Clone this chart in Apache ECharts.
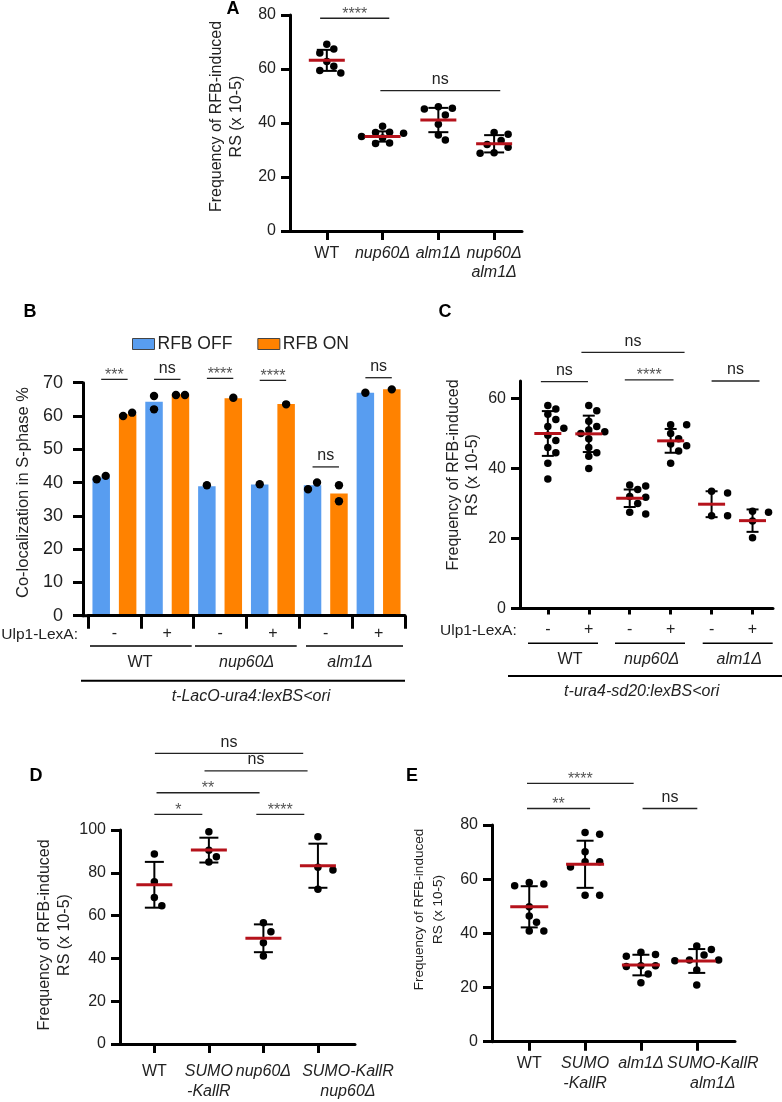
<!DOCTYPE html>
<html><head><meta charset="utf-8">
<script src="https://cdn.jsdelivr.net/npm/echarts@6/dist/echarts.min.js"></script>
<style>html,body{margin:0;padding:0;background:#fff}#c{width:782px;height:1102px}</style>
</head><body><div id="c"></div>
<script>
// ---------------- DATA ----------------
// Panel A
const catsA = ['WT', 'nup60Δ', 'alm1Δ', 'nup60Δ\nalm1Δ'];
const ptsA = [
  [67.4, 58.5, 69.2, 65.9, 62.8, 61.0, 59.4],
  [38.8, 36.5, 36.2, 36.6, 35.0, 34.4, 32.6, 32.4],
  [46.0, 45.2, 45.5, 43.0, 39.5, 35.6, 33.7],
  [36.5, 35.8, 33.5, 32.0, 31.0, 29.0, 28.8]
];
const meanA = [63.2, 35.0, 41.1, 32.3];
const sdA = [3.9, 1.9, 4.5, 3.2];
const sigA = [[0.88, 2.12, 78.8], [1.96, 4.11, 52]];
const sigLabA = ['****', 'ns'];

// Panel B
const catsB = ['-', '+', '-', '+', '-', '+'];
const groupsB = ['WT', 'nup60Δ', 'alm1Δ'];
const strainB = 't-LacO-ura4:lexBS<ori';
const barOff = [41.5, 64.3, 38.9, 39.4, 39.2, 67.0];
const barOn = [60.5, 66.5, 65.3, 63.6, 36.7, 68.0];
const dotsOff = [[41, 42], [66, 62], [39.2], [39.5], [38, 40], [67]];
const dotsOn = [[60, 61], [66.3, 66.3], [65.5], [63.5], [39.2, 34.4], [68]];
const sigB = [71, 71, 71.3, 70.7, 44.7, 71.5];
const sigLabB = ['***', 'ns', '****', '****', 'ns', 'ns'];

// Panel C
const catsC = ['-', '+', '-', '+', '-', '+'];
const groupsC = ['WT', 'nup60Δ', 'alm1Δ'];
const strainC = 't-ura4-sd20:lexBS<ori';
const ptsC = [
  [58, 57, 55.5, 54, 52, 51.5, 49.5, 48, 46, 44.5, 41.5, 37],
  [58, 56.5, 53.5, 52, 51, 50.5, 50, 48.5, 46, 44.5, 43.5, 40],
  [35.3, 35, 34, 32, 31.8, 30, 27.5, 27],
  [52.5, 52.5, 50, 48.5, 47, 46.5, 45, 41.5],
  [33, 33.5, 26.5, 26.5],
  [27.5, 27.8, 25, 20.2]
];
const meanC = [50.0, 49.9, 31.5, 47.9, 29.8, 25.1];
const sdC = [6.4, 5.2, 2.5, 3.4, 3.7, 3.2];
const sigC = [[0.83, 1.98, 64.8], [1.82, 4.34, 73.2], [2.88, 4.07, 65.3], [5.0, 6.17, 65.0]];
const sigLabC = ['ns', 'ns', '****', 'ns'];

// Panel D
const catsD = ['WT', 'SUMO\n-KallR', 'nup60Δ', 'SUMO-KallR\nnup60Δ'];
const ptsD = [
  [88.8, 75.8, 68.4, 64.6],
  [99.2, 90.5, 87.5, 85.0],
  [56.7, 52.5, 47.3, 41.1],
  [96.9, 82.6, 81.3, 72.3]
];
const meanD = [74.4, 90.6, 49.4, 83.3];
const sdD = [10.7, 5.8, 6.5, 10.3];
const sigD = [[1.01, 3.73, 135.8], [1.92, 3.81, 127.6], [1.04, 2.93, 117.4], [1.0, 1.88, 107.3], [2.87, 3.75, 107.3]];
const sigLabD = ['ns', 'ns', '**', '*', '****'];

// Panel E
const catsE = ['WT', 'SUMO\n-KallR', 'alm1Δ', 'SUMO-KallR\nalm1Δ'];
const ptsE = [
  [58.2, 57.6, 58.8, 49.8, 46.4, 44.1, 40.9, 40.9],
  [76.6, 77.2, 70.1, 66.4, 64.5, 66.4, 54.1, 54.1],
  [33, 32.2, 31.5, 28, 28, 27.8, 25, 21.8],
  [35.3, 34, 32, 30.2, 30.2, 29.9, 26.5, 20.9]
];
const meanE = [49.8, 65.5, 28.3, 29.8];
const sdE = [7.6, 8.7, 3.8, 4.4];
const sigE = [[0.96, 2.87, 95.4], [0.96, 2.09, 86.1], [3.03, 4.01, 86.1]];
const sigLabE = ['****', '**', 'ns'];

const yTitleFreq = 'Frequency of RFB-induced\nRS (x 10-5)';
const yTitleB = 'Co-localization in S-phase %';
const ulpLabel = 'Ulp1-LexA:';

// ---------------- STYLE / LAYOUT ----------------
const FONT = "'Liberation Sans', Arial, Helvetica, sans-serif";
const INK = '#222';
const RED = '#b5121b';
const BLUE = '#589df0';
const ORANGE = '#ff8200';

const G = {
  A: {left: 290, top: 15, width: 232, height: 216, xMin: 0.34, xMax: 4.5, yMax: 80},
  B: {left: 88, top: 382.7, width: 317, height: 233, yMax: 70},
  C: {left: 520, top: 381, width: 253, height: 227.5, xMin: 0.32, xMax: 6.5, yMax: 65},
  D: {left: 120, top: 830, width: 235, height: 214, xMin: 0.37, xMax: 4.68, yMax: 100},
  E: {left: 492, top: 825, width: 243, height: 216.7, xMin: 0.333, xMax: 4.685, yMax: 80}
};
const order = ['A', 'B', 'C', 'D', 'E'];

function swarm(vals, yPx, step, coll) {
  const idx = vals.map((v, i) => i).sort((a, b) => vals[b] - vals[a]);
  const placed = [], off = [];
  idx.forEach(i => {
    const y = vals[i] * yPx;
    for (let k = 0; k < 60; k++) {
      const c = k === 0 ? 0 : (k % 2 ? 1 : -1) * Math.ceil(k / 2) * step;
      if (placed.every(p => Math.hypot(p[0] - c, p[1] - y) >= coll)) {
        off[i] = c; placed.push([c, y]); break;
      }
    }
  });
  return off;
}

function fmtLabel(s) {
  return s.split('\n').map(l => '{' + (l === 'WT' ? 'n' : 'i') + '|' + l + '}').join('\n');
}

function txtStyle(extra) {
  return Object.assign({fill: INK, fontSize: 16, fontFamily: FONT,
    align: 'center', verticalAlign: 'middle', textAlign: 'center', textVerticalAlign: 'middle'}, extra || {});
}

function sigShape(xa, xb, y, lab) {
  const star = lab.indexOf('*') >= 0;
  return {type: 'group', children: [
    {type: 'line', shape: {x1: xa, y1: y, x2: xb, y2: y}, style: {stroke: '#222', lineWidth: 1.3}},
    {type: 'text', x: (xa + xb) / 2, y: star ? y + 4 : y - 3,
      style: txtStyle({text: lab, fill: star ? '#555' : INK, fontSize: 16,
        verticalAlign: 'bottom', textVerticalAlign: 'bottom'})}
  ]};
}

function summaryRender(cap, mw) {
  return function (params, api) {
    const x = api.value(0), m = api.value(1), s = api.value(2);
    const c = api.coord([x, m]), t = api.coord([x, m + s]), b = api.coord([x, m - s]);
    const st = {stroke: '#000', lineWidth: 2};
    return {type: 'group', children: [
      {type: 'line', shape: {x1: c[0], y1: t[1], x2: c[0], y2: b[1]}, style: st},
      {type: 'line', shape: {x1: c[0] - cap / 2, y1: t[1], x2: c[0] + cap / 2, y2: t[1]}, style: st},
      {type: 'line', shape: {x1: c[0] - cap / 2, y1: b[1], x2: c[0] + cap / 2, y2: b[1]}, style: st},
      {type: 'line', shape: {x1: c[0] - mw / 2, y1: c[1], x2: c[0] + mw / 2, y2: c[1]}, style: {stroke: RED, lineWidth: 3}}
    ]};
  };
}

function dotPanel(gi, g, pts, mean, sd, sig, sigLab, o) {
  const yPx = g.height / g.yMax, xPx = g.width / (g.xMax - g.xMin);
  const data = [];
  pts.forEach((vals, k) => {
    const off = swarm(vals, yPx, o.step, o.coll);
    vals.forEach((v, i) => data.push([k + 1 + off[i] / xPx, v]));
  });
  return [
    {type: 'scatter', xAxisIndex: gi, yAxisIndex: gi, data, symbol: 'circle', symbolSize: o.dot,
      itemStyle: {color: '#000', opacity: 1}, silent: true, z: 2},
    {type: 'custom', coordinateSystem: 'cartesian2d', xAxisIndex: gi, yAxisIndex: gi,
      data: mean.map((m, k) => [k + 1, m, sd[k]]), encode: {x: 0, y: 1},
      renderItem: summaryRender(o.cap, o.mw), silent: true, z: 4},
    {type: 'custom', coordinateSystem: 'cartesian2d', xAxisIndex: gi, yAxisIndex: gi, clip: false,
      data: sig.map(s => [s[0], s[2], s[1]]), encode: {x: [0, 2], y: 1},
      renderItem: (params, api) => {
        const p1 = api.coord([api.value(0), api.value(1)]);
        const p2 = api.coord([api.value(2), api.value(1)]);
        return sigShape(p1[0], p2[0], p1[1], sigLab[params.dataIndex]);
      }, silent: true, z: 4}
  ];
}

const axisLineSt = {show: true, onZero: false, lineStyle: {color: '#000', width: 3}};
const tickSt = (len, cv) => Object.assign({show: true, length: len, lineStyle: {color: '#000', width: 3}}, cv ? {customValues: cv} : {});

function yAx(gi, g, opts) {
  return Object.assign({
    type: 'value', gridIndex: gi, min: 0, max: g.yMax,
    axisLine: axisLineSt, axisTick: tickSt(9), splitLine: {show: false}, z: 6,
    axisLabel: {color: INK, fontSize: 16, fontFamily: FONT, margin: 14}
  }, opts);
}

function richSet(fs, lh) {
  const base = {fontSize: fs, fontFamily: FONT, color: INK, lineHeight: lh};
  return {n: base, i: Object.assign({}, base, {fontStyle: 'italic'})};
}

// label of the last category may sit a few pixels right of its tick (as in the original figure)
function xValAx(gi, g, cats, margin, lh, lastShiftPx) {
  const cv = cats.map((c, i) => i + 1);
  const xPx = g.width / (g.xMax - g.xMin);
  const lv = cv.map((v, i) => (i === cats.length - 1 && lastShiftPx) ? v + lastShiftPx / xPx : v);
  return {
    type: 'value', gridIndex: gi, min: g.xMin, max: g.xMax,
    axisLine: axisLineSt, axisTick: tickSt(9, cv), splitLine: {show: false}, z: 6,
    axisLabel: {customValues: lv, margin, hideOverlap: false,
      formatter: v => {
        let k = 0, best = 1e9;
        lv.forEach((x, i) => { const d = Math.abs(x - v); if (d < best) { best = d; k = i; } });
        return fmtLabel(cats[k]);
      },
      rich: richSet(16, lh)}
  };
}

const grids = order.map(k => ({left: G[k].left, top: G[k].top, width: G[k].width, height: G[k].height, containLabel: false}));

const xAxes = [
  xValAx(0, G.A, catsA, 13, 19, 0),
  {type: 'category', gridIndex: 1, data: catsB, boundaryGap: true,
    axisLine: {show: true, lineStyle: {color: '#000', width: 3}},
    axisTick: {show: true, length: 13, interval: 0, lineStyle: {color: '#000', width: 3}},
    axisLabel: {interval: 0, margin: 10, color: INK, fontSize: 16, fontFamily: FONT}, z: 6},
  {type: 'value', gridIndex: 2, min: G.C.xMin, max: G.C.xMax,
    axisLine: axisLineSt, axisTick: tickSt(6, [1, 2, 3, 4, 5, 6]), splitLine: {show: false}, z: 6,
    axisLabel: {customValues: [1, 2, 3, 4, 5, 6], margin: 13, color: INK, fontSize: 16, fontFamily: FONT,
      formatter: v => catsC[Math.round(v) - 1]}},
  xValAx(3, G.D, catsD, 18, 20, 30),
  xValAx(4, G.E, catsE, 12, 20, 16)
];

const yAxes = [
  yAx(0, G.A, {interval: 20}),
  yAx(1, G.B, {interval: 10, offset: 5, axisTick: tickSt(10),
    axisLabel: {color: INK, fontSize: 18, fontFamily: FONT, margin: 20}}),
  yAx(2, G.C, {axisTick: tickSt(9, [0, 20, 40, 60]),
    axisLabel: {customValues: [0, 20, 40, 60], color: INK, fontSize: 16, fontFamily: FONT, margin: 14}}),
  yAx(3, G.D, {interval: 20}),
  yAx(4, G.E, {interval: 20})
];

// Panel B series
const BAR_W = 17.5, BAR_GAP = 0.51;
const BAR_SHIFT = (BAR_W + BAR_GAP * BAR_W) / 2;
const yPxB = G.B.height / G.B.yMax;
const dotsBData = [];
[dotsOff, dotsOn].forEach((set, w) => {
  set.forEach((vals, cat) => {
    let offs = vals.map(() => 0);
    if (vals.length === 2 && Math.abs(vals[0] - vals[1]) * yPxB < 8) {
      offs = vals[0] <= vals[1] ? [-4.5, 4.5] : [4.5, -4.5];
    }
    vals.forEach((v, i) => dotsBData.push([cat, v, w, offs[i]]));
  });
});

const seriesB = [
  {type: 'bar', name: 'RFB OFF', xAxisIndex: 1, yAxisIndex: 1, data: barOff, barWidth: BAR_W,
    barGap: (BAR_GAP * 100) + '%', itemStyle: {color: BLUE}, silent: true, z: 2},
  {type: 'bar', name: 'RFB ON', xAxisIndex: 1, yAxisIndex: 1, data: barOn, barWidth: BAR_W,
    barGap: (BAR_GAP * 100) + '%', itemStyle: {color: ORANGE}, silent: true, z: 2},
  {type: 'custom', coordinateSystem: 'cartesian2d', xAxisIndex: 1, yAxisIndex: 1, data: dotsBData,
    encode: {x: 0, y: 1}, silent: true, z: 4,
    renderItem: (params, api) => {
      const p = api.coord([api.value(0), api.value(1)]);
      const x = p[0] + (api.value(2) ? 1 : -1) * BAR_SHIFT + api.value(3);
      return {type: 'circle', shape: {cx: x, cy: p[1], r: 4.2}, style: {fill: '#000'}};
    }},
  {type: 'custom', coordinateSystem: 'cartesian2d', xAxisIndex: 1, yAxisIndex: 1, clip: false,
    data: sigB.map((y, i) => [i, y]), encode: {x: 0, y: 1}, silent: true, z: 4,
    renderItem: (params, api) => {
      const p = api.coord([api.value(0), api.value(1)]);
      return sigShape(p[0] - BAR_SHIFT, p[0] + BAR_SHIFT, p[1], sigLabB[params.dataIndex]);
    }}
];

const series = [].concat(
  dotPanel(0, G.A, ptsA, meanA, sdA, sigA, sigLabA, {dot: 7.5, step: 7, coll: 8.5, cap: 20, mw: 36}),
  seriesB,
  dotPanel(2, G.C, ptsC, meanC, sdC, sigC, sigLabC, {dot: 7.5, step: 8, coll: 8.5, cap: 12, mw: 27}),
  dotPanel(3, G.D, ptsD, meanD, sdD, sigD, sigLabD, {dot: 7.5, step: 7.5, coll: 9, cap: 19, mw: 36}),
  dotPanel(4, G.E, ptsE, meanE, sdE, sigE, sigLabE, {dot: 7.5, step: 7.3, coll: 9, cap: 17, mw: 38})
);

// ---------------- DECORATIONS ----------------
const deco = [];
function gText(x, y, text, extra, rot) {
  deco.push({type: 'text', x, y, rotation: rot || 0, silent: true, style: txtStyle(Object.assign({text}, extra || {}))});
}
function gLine(x1, y1, x2, y2, w) {
  deco.push({type: 'line', silent: true, shape: {x1, y1, x2, y2}, style: {stroke: '#000', lineWidth: w || 1.5}});
}
const ital = {fontStyle: 'italic'};
const bold = {fontWeight: 'bold', fontSize: 18, fill: '#000'};

// panel letters
gText(233, 9, 'A', bold);
gText(30, 312, 'B', bold);
gText(445, 312, 'C', bold);
gText(36, 776, 'D', bold);
gText(412, 776, 'E', bold);

// y titles
const R90 = Math.PI / 2;
gText(227, 116.5, yTitleFreq, {lineHeight: 20}, R90);
gText(23, 492.5, yTitleB, {fontSize: 16.5}, R90);
gText(463.5, 475, yTitleFreq, {lineHeight: 19}, R90);
gText(55, 935, yTitleFreq, {lineHeight: 20}, R90);
gText(428.5, 909.5, yTitleFreq, {fontSize: 13.5, lineHeight: 19}, R90);

// B corner filler (axis line continuous to the offset y axis)
gLine(81.8, G.B.top + G.B.height, G.B.left + 1, G.B.top + G.B.height, 3);

// B below-axis annotation
gText(78, 635, ulpLabel, {align: 'right', textAlign: 'right', fontSize: 15.5});
[[90, 191.7], [195, 296.7], [306, 403]].forEach(s => gLine(s[0], 646, s[1], 646, 1.5));
[140, 246.7, 350].forEach((x, i) => gText(x, 663, groupsB[i], groupsB[i] === 'WT' ? {} : ital));
gLine(81, 680.7, 405, 680.7, 2);
gText(251, 697, strainB, ital);

// C below-axis annotation
gText(516.7, 630.7, ulpLabel, {align: 'right', textAlign: 'right', fontSize: 15.5});
[[528, 598], [615, 685], [702.7, 772.7]].forEach(s => gLine(s[0], 643.3, s[1], 643.3, 1.5));
[570, 651.7, 739.3].forEach((x, i) => gText(x, 659.3, groupsC[i], groupsC[i] === 'WT' ? {} : ital));
gLine(508, 676, 782, 676, 2);
gText(641.7, 691.7, strainC, ital);

const option = {
  animation: false,
  backgroundColor: '#fff',
  textStyle: {fontFamily: FONT},
  grid: grids,
  xAxis: xAxes,
  yAxis: yAxes,
  legend: {
    data: ['RFB OFF', 'RFB ON'], left: 127, top: 330, itemWidth: 22, itemHeight: 11, itemGap: 25,
    icon: 'rect', selectedMode: false,
    itemStyle: {borderColor: '#444', borderWidth: 1},
    textStyle: {fontSize: 17.5, color: INK, fontFamily: FONT, padding: [0, 0, 0, -2]}
  },
  series,
  graphic: {elements: deco}
};

const chart = echarts.init(document.getElementById('c'), null, {renderer: 'canvas', width: 782, height: 1102});
chart.setOption(option);
</script>
</body></html>
